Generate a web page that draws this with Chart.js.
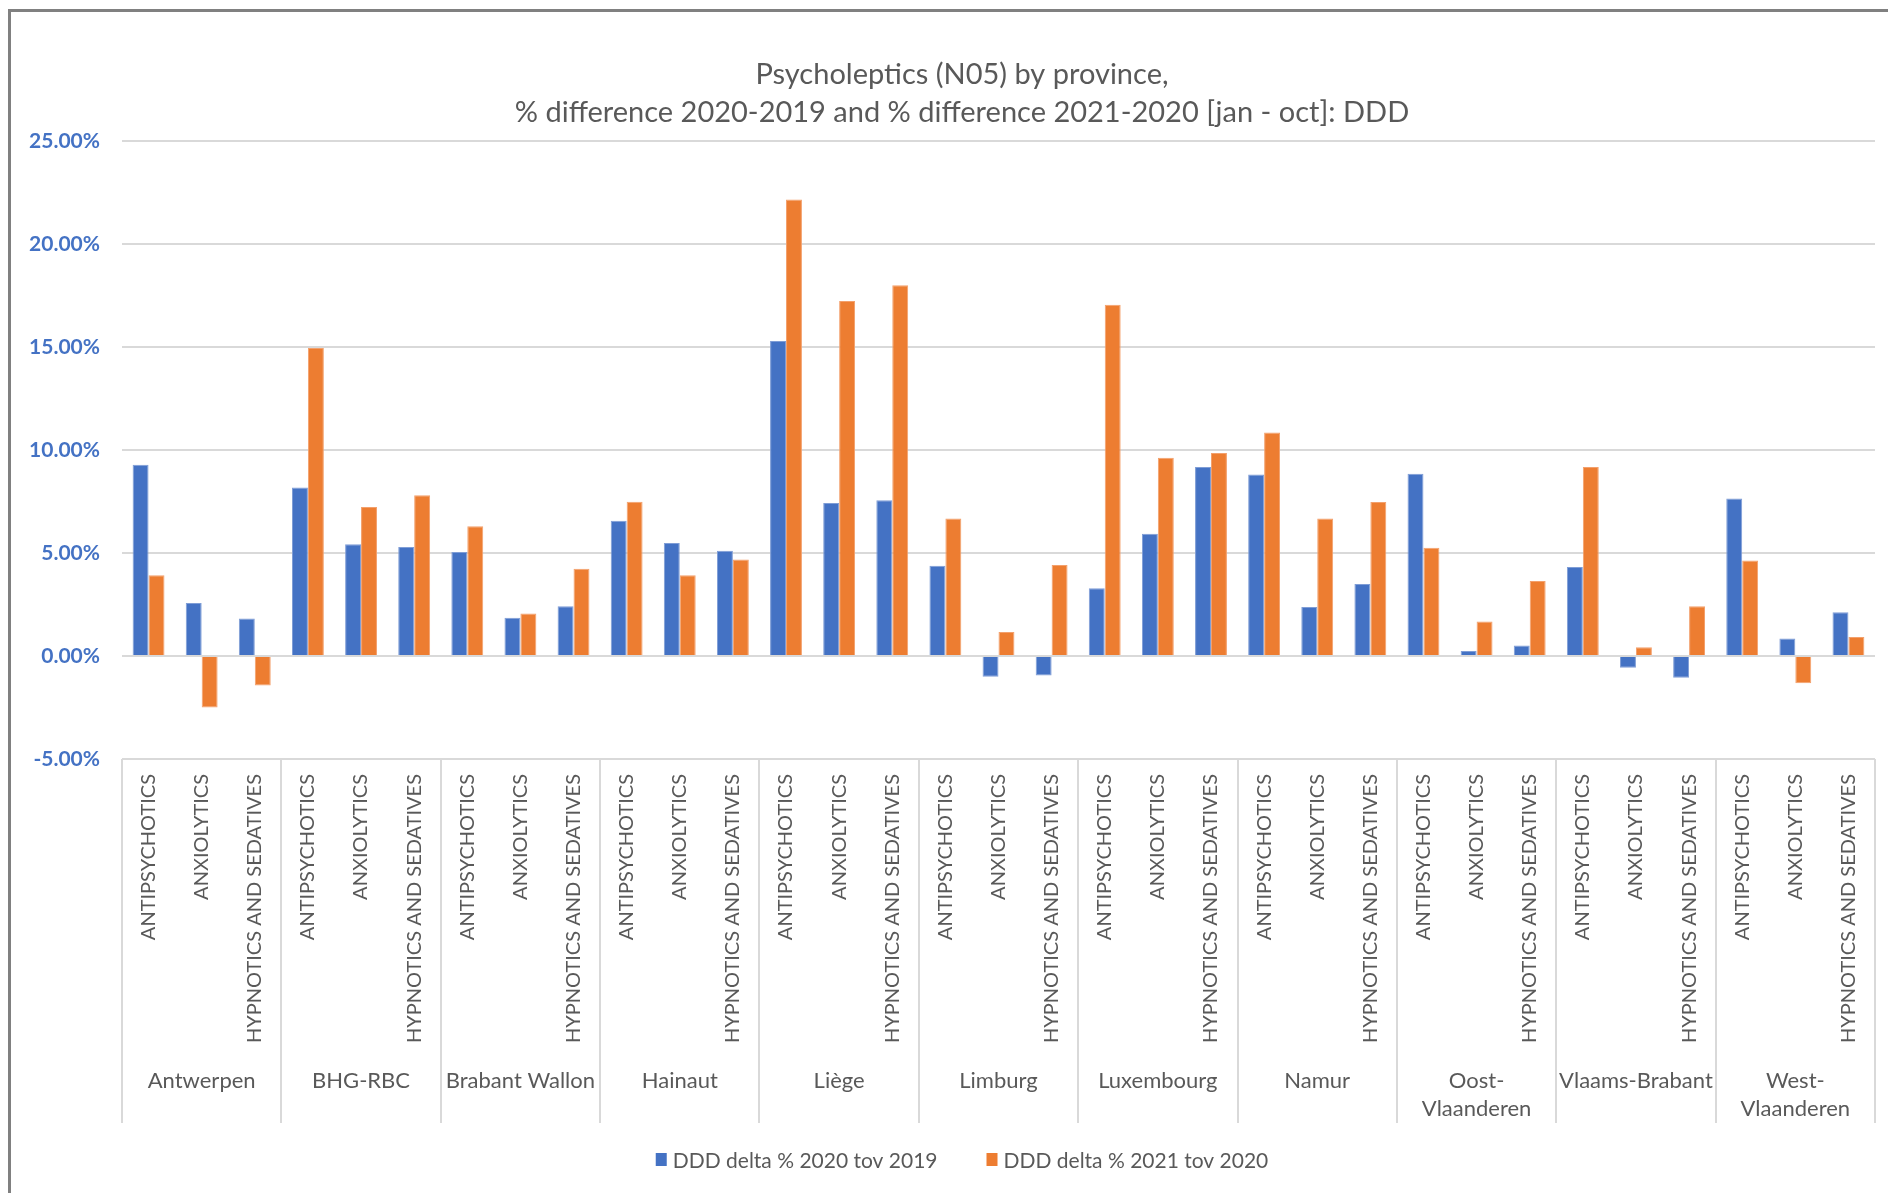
<!DOCTYPE html>
<html>
<head>
<meta charset="utf-8">
<title>Psycholeptics (N05) by province</title>
<script src="https://cdn.jsdelivr.net/npm/chart.js@4.4.0/dist/chart.umd.min.js"></script>
<style>
  html, body { margin: 0; padding: 0; background: #fff; overflow: hidden; }
  #wrap { position: relative; width: 1888px; height: 1193px; }
  canvas { position: absolute; left: 0; top: 0; }
  #frame { position: absolute; left: 8px; top: 9px; width: 2000px; height: 2000px;
           border-top: 3px solid #808080; border-left: 3px solid #808080; pointer-events: none; }
</style>
</head>
<body>
<div id="wrap">
  <canvas id="chart" width="1888" height="1193"></canvas>
  <div id="frame"></div>
</div>
<script>
// Drug classes shown inside each province group
const drugClasses = ['ANTIPSYCHOTICS', 'ANXIOLYTICS', 'HYPNOTICS AND SEDATIVES'];

// Provinces (outer category level)
const provinces = ['Antwerpen', 'BHG-RBC', 'Brabant Wallon', 'Hainaut', 'Liège', 'Limburg',
                   'Luxembourg', 'Namur', ['Oost-', 'Vlaanderen'], 'Vlaams-Brabant', ['West-', 'Vlaanderen']];

// DDD delta % 2020 tov 2019 (per province: antipsychotics, anxiolytics, hypnotics and sedatives)
const delta2020 = [
   9.29,  2.57,  1.82,
   8.18,  5.43,  5.29,
   5.05,  1.86,  2.42,
   6.57,  5.49,  5.11,
  15.29,  7.43,  7.56,
   4.38, -1.01, -0.95,
   3.29,  5.94,  9.17,
   8.81,  2.38,  3.49,
   8.85,  0.24,  0.51,
   4.32, -0.57, -1.05,
   7.64,  0.85,  2.12
];

// DDD delta % 2021 tov 2020
const delta2021 = [
   3.92, -2.50, -1.43,
  14.95,  7.23,  7.80,
   6.30,  2.06,  4.24,
   7.49,  3.92,  4.69,
  22.16, 17.23, 18.00,
   6.67,  1.17,  4.42,
  17.05,  9.62,  9.86,
  10.85,  6.67,  7.48,
   5.25,  1.68,  3.64,
   9.17,  0.42,  2.42,
   4.63, -1.32,  0.92
];

const seriesNames = ['DDD delta % 2020 tov 2019', 'DDD delta % 2021 tov 2020'];
const seriesColors = ['#4472C4', '#ED7D31'];
const seriesEdges = ['#7f9dd6', '#f3a06c'];
const yMin = -5, yMax = 25, yStep = 5;

const subLabels = provinces.flatMap(() => drugClasses);

// Vertical dividers between province groups, spanning both label rows
const groupDividers = {
  id: 'groupDividers',
  afterDraw(chart) {
    const outer = chart.scales.x2;
    const ctx = chart.ctx;
    const top = chart.chartArea.bottom;
    const bottom = outer.top + 73;
    ctx.save();
    ctx.strokeStyle = '#d9d9d9';
    ctx.lineWidth = 2;
    for (let i = 0; i <= provinces.length; i++) {
      const x = Math.round(outer.getPixelForValue(i - 0.5));
      ctx.beginPath();
      ctx.moveTo(x, top);
      ctx.lineTo(x, bottom);
      ctx.stroke();
    }
    ctx.restore();
  }
};

// Legend row under the province labels, centred like the title
const seriesLegend = {
  id: 'seriesLegend',
  afterDraw(chart) {
    const ctx = chart.ctx;
    const tb = chart.titleBlock;
    const cx = (tb.left + tb.right) / 2;
    const cy = chart.scales.x2.top + 111;
    const boxW = 11, boxH = 13, textGap = 6, itemGap = 49;
    ctx.save();
    ctx.font = '21px Lato';
    ctx.textBaseline = 'middle';
    const items = chart.data.datasets.map(ds => ({
      text: ds.label, color: ds.backgroundColor, w: ctx.measureText(ds.label).width
    }));
    const total = items.reduce((s, it) => s + boxW + textGap + it.w, 0) + itemGap * (items.length - 1);
    let x = cx - total / 2;
    items.forEach(it => {
      ctx.fillStyle = it.color;
      ctx.fillRect(x, cy - 8, boxW, boxH);
      ctx.fillStyle = '#595959';
      ctx.fillText(it.text, x + boxW + textGap, cy);
      x += boxW + textGap + it.w + itemGap;
    });
    ctx.restore();
  }
};

new Chart(document.getElementById('chart'), {
  type: 'bar',
  data: {
    labels: subLabels,
    datasets: [
      { label: seriesNames[0], data: delta2020, backgroundColor: seriesColors[0],
        borderColor: seriesEdges[0], borderWidth: 1, xAxisID: 'x' },
      { label: seriesNames[1], data: delta2021, backgroundColor: seriesColors[1],
        borderColor: seriesEdges[1], borderWidth: 1, xAxisID: 'x' }
    ]
  },
  plugins: [groupDividers, seriesLegend],
  options: {
    responsive: false,
    animation: false,
    devicePixelRatio: 1,
    layout: { padding: { left: 20, right: -16, top: 0, bottom: 0 } },
    datasets: { bar: { categoryPercentage: 0.6, barPercentage: 1.0 } },
    plugins: {
      tooltip: { enabled: false },
      legend: { display: false },
      title: {
        display: true,
        text: ['Psycholeptics (N05) by province,',
               '% difference 2020-2019 and % difference 2021-2020 [jan - oct]: DDD'],
        color: '#595959',
        font: { family: 'Lato', size: 29, weight: 'normal', lineHeight: '38px' },
        padding: { top: 56, bottom: 9 }
      }
    },
    scales: {
      y: {
        min: yMin, max: yMax,
        ticks: {
          stepSize: yStep,
          padding: 22,
          color: '#4472C4',
          font: { family: 'Lato', size: 21, weight: 'bold' },
          callback: v => v.toFixed(2) + '%'
        },
        grid: { color: '#d9d9d9', lineWidth: 2, drawTicks: false },
        border: { display: false },
        afterFit(s) { s.width = 102; }
      },
      y2: {
        position: 'right',
        grid: { display: false, drawTicks: false },
        ticks: { display: false },
        border: { display: false },
        afterFit(s) { s.width = 29; }
      },
      x: {
        position: 'bottom',
        weight: 0,
        grid: { display: false, drawTicks: false },
        border: { display: false },
        ticks: {
          autoSkip: false,
          minRotation: 90,
          maxRotation: 90,
          padding: 15,
          color: '#595959',
          font: { family: 'Lato', size: 20 }
        },
        afterFit(s) { s.height = 291; s.paddingLeft = 0; s.paddingRight = 0; }
      },
      x2: {
        type: 'category',
        position: 'bottom',
        weight: 1,
        labels: provinces,
        offset: true,
        grid: { display: false, drawTicks: false },
        border: { display: false },
        ticks: {
          autoSkip: false,
          maxRotation: 0,
          padding: 17,
          color: '#595959',
          font: { family: 'Lato', size: 22, lineHeight: '28px' }
        },
        afterFit(s) { s.height = 143; s.paddingLeft = 0; s.paddingRight = 0; }
      }
    }
  }
});
</script>
</body>
</html>
